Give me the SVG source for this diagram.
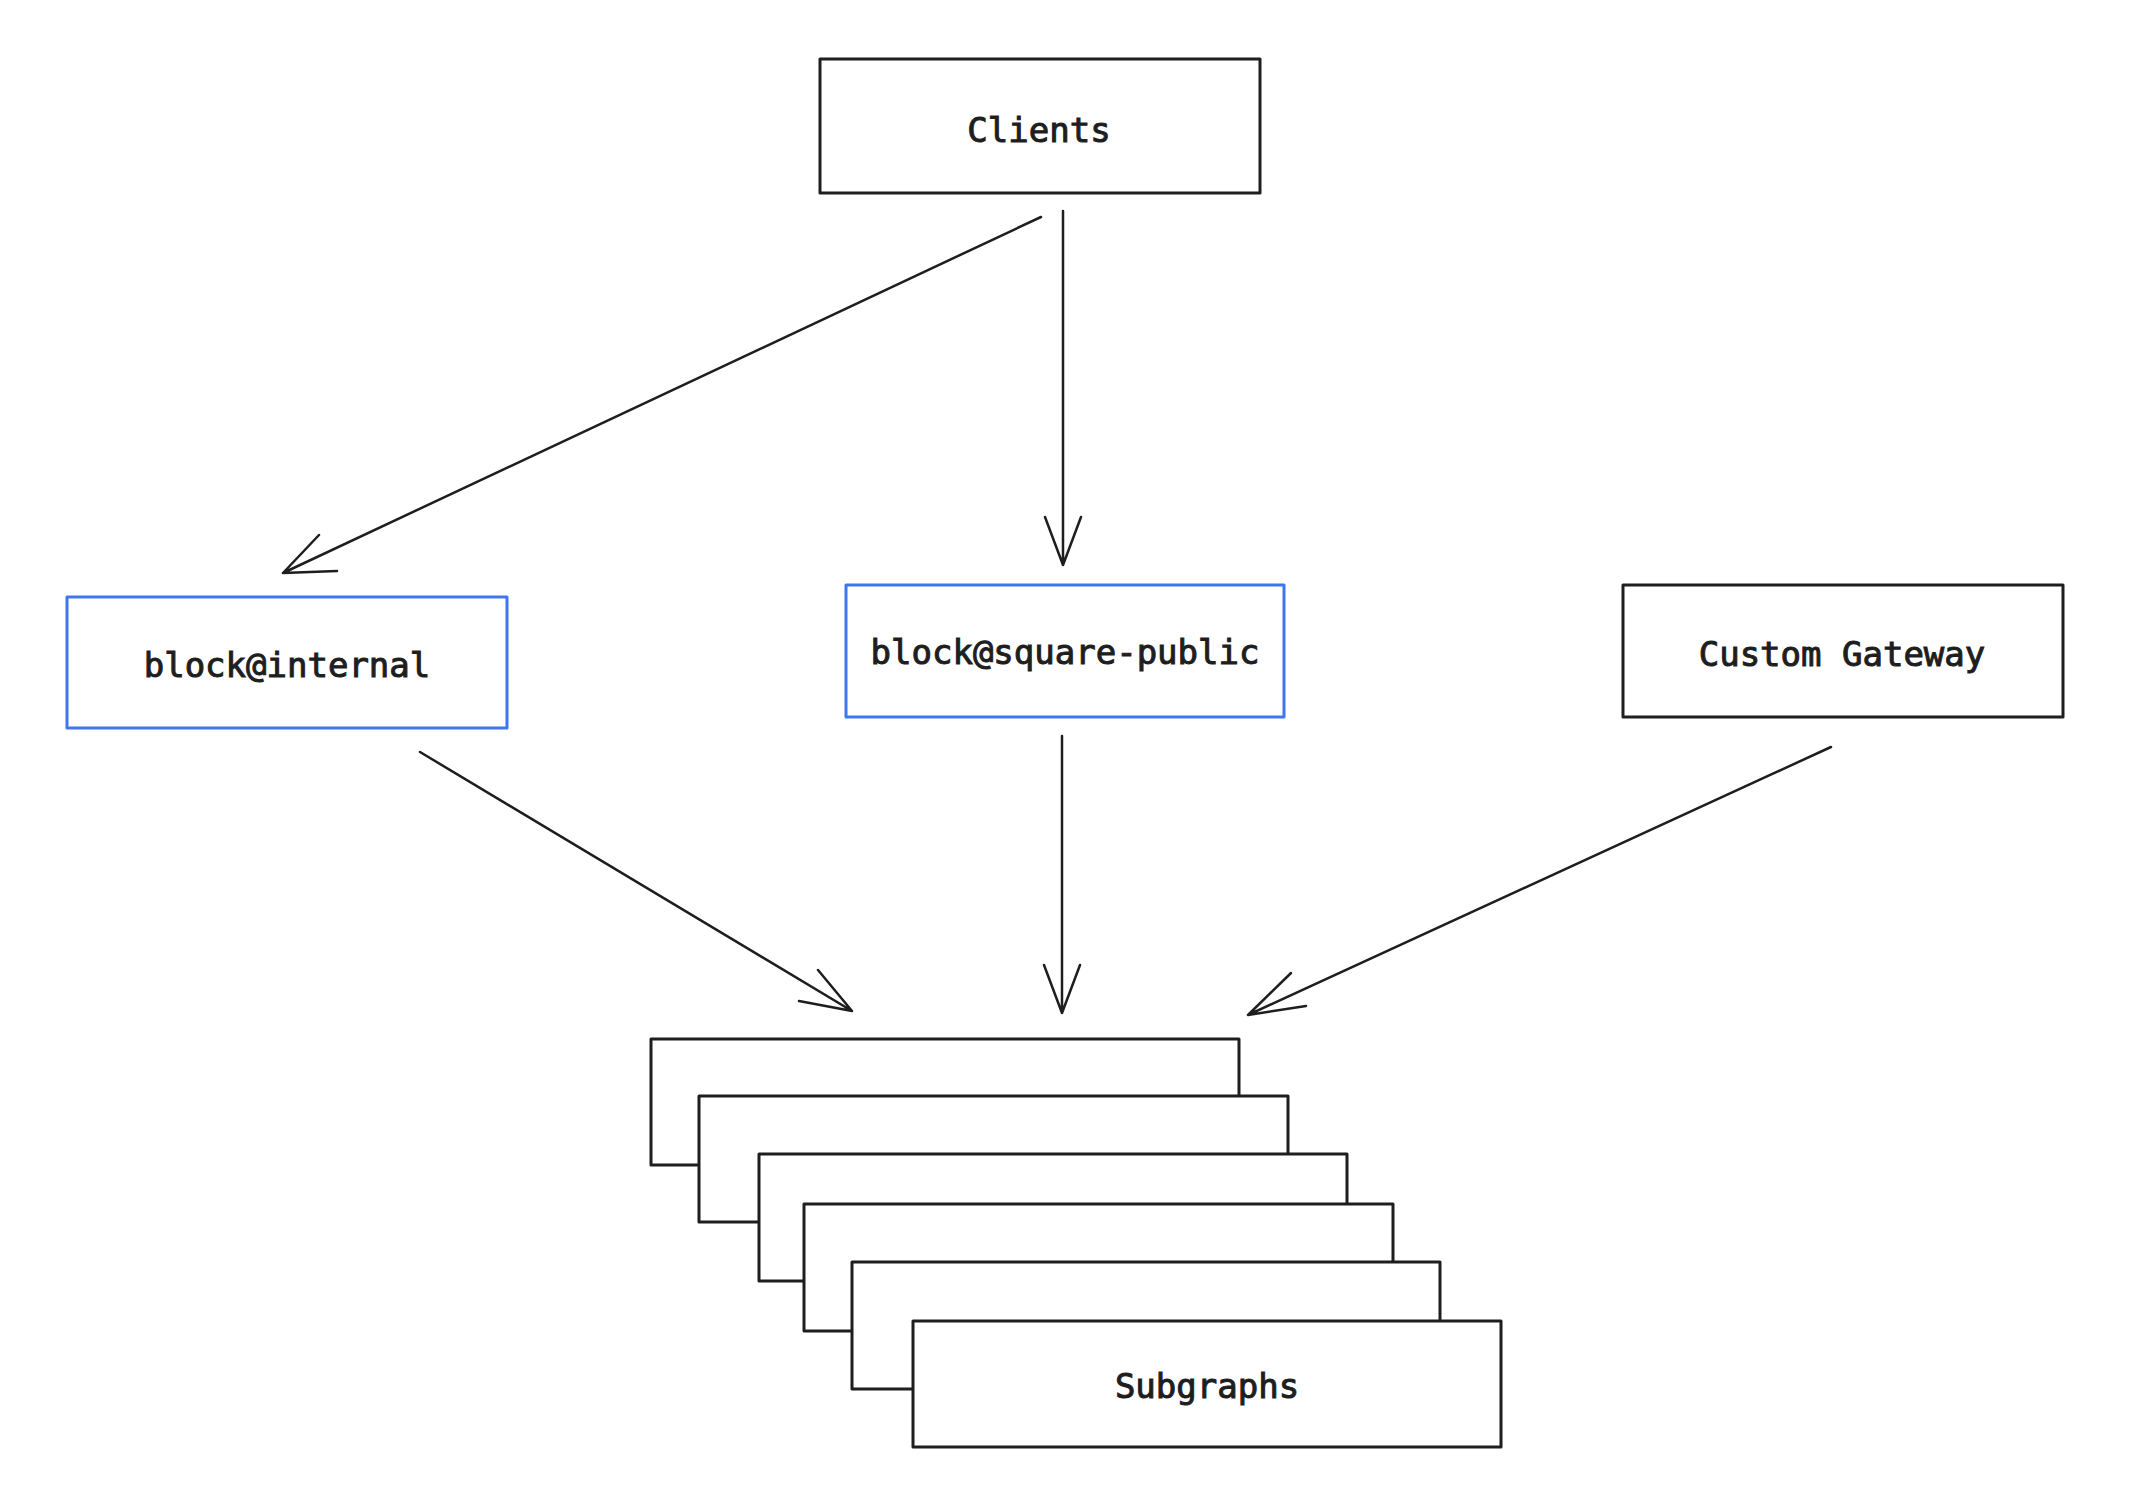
<svg xmlns="http://www.w3.org/2000/svg" width="2146" height="1504" viewBox="0 0 2146 1504">
<style>
.box{fill:#ffffff;stroke:#1e1e1e;stroke-width:3;stroke-linejoin:round}
.blue{fill:#ffffff;stroke:#3f76f0;stroke-width:3;stroke-linejoin:round}
.lbl{font-family:"DejaVu Sans Mono","Liberation Mono",monospace;font-size:34px;fill:#1e1e1e;text-anchor:middle;stroke:#1e1e1e;stroke-width:1}
.edge{fill:none;stroke:#1e1e1e;stroke-width:2.5;stroke-linecap:round;stroke-linejoin:round}
</style>
<rect width="2146" height="1504" fill="#ffffff"/>
<g id="clients">
<rect class="box" x="820" y="59" width="440" height="134"/>
<text class="lbl" x="1039" y="142">Clients</text>
</g>
<g id="block-internal">
<rect class="blue" x="67" y="597" width="440" height="131"/>
<text class="lbl" x="287" y="677">block@internal</text>
</g>
<g id="block-square-public">
<rect class="blue" x="846" y="585" width="438" height="132"/>
<text class="lbl" x="1065" y="664">block@square-public</text>
</g>
<g id="custom-gateway">
<rect class="box" x="1623" y="585" width="440" height="132"/>
<text class="lbl" x="1842" y="666">Custom Gateway</text>
</g>
<g id="subgraphs">
<rect class="box" x="651" y="1039" width="588" height="126"/>
<rect class="box" x="699" y="1096" width="589" height="126"/>
<rect class="box" x="759" y="1154" width="588" height="127"/>
<rect class="box" x="804" y="1204" width="589" height="127"/>
<rect class="box" x="852" y="1262" width="588" height="127"/>
<rect class="box" x="913" y="1321" width="588" height="126"/>
<text class="lbl" x="1207" y="1398">Subgraphs</text>
</g>
<g id="connectors">
<path class="edge" d="M1041 217 L283 573 M319 535 L283 573 L337 571"/>
<path class="edge" d="M1063 211 L1063 565 M1045 517 L1063 565 L1081 517"/>
<path class="edge" d="M420 752 L852 1011 M818 970 L852 1011 L799 1001"/>
<path class="edge" d="M1062 736 L1062 1013 M1044 965 L1062 1013 L1080 965"/>
<path class="edge" d="M1831 747 L1248 1015 M1291 973 L1248 1015 L1306 1006"/>
</g>
</svg>
